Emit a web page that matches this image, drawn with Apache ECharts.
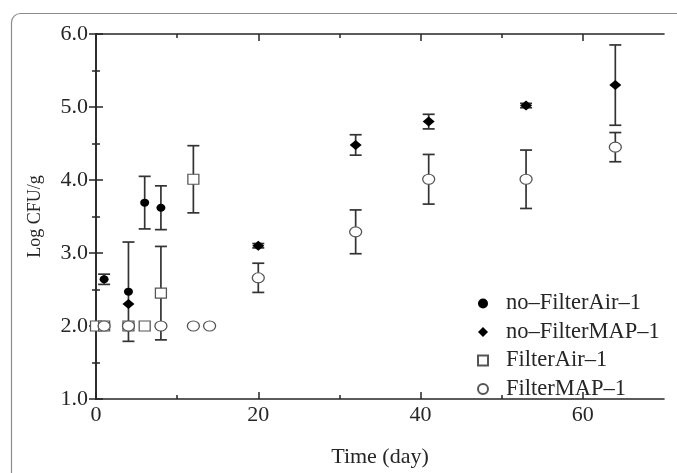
<!DOCTYPE html>
<html><head><meta charset="utf-8">
<script src="https://cdn.jsdelivr.net/npm/echarts@6/dist/echarts.min.js"></script>
<style>html,body{margin:0;padding:0;background:#fff}#c{width:677px;height:473px}</style>
</head><body><div id="c"></div>
<script>
// ---- data ----
const seriesNames = ['no–FilterAir–1', 'no–FilterMAP–1', 'FilterAir–1', 'FilterMAP–1'];

const noFilterAirDays = [1, 4, 6, 8];
const noFilterAirVals = [2.64, 2.47, 3.69, 3.62];
const noFilterAirErr  = [0.07, 0.68, 0.36, 0.30];

const noFilterMapDays = [4, 20, 32, 41, 53, 64];
const noFilterMapVals = [2.30, 3.10, 4.48, 4.80, 5.02, 5.30];
const noFilterMapErr  = [0, 0.03, 0.14, 0.10, 0.03, 0.55];

const filterAirDays = [0, 1, 4, 6, 8, 12];
const filterAirVals = [2.0, 2.0, 2.0, 2.0, 2.45, 4.01];
const filterAirErr  = [0, 0, 0, 0, 0.64, 0.46];

const filterMapDays = [1, 4, 8, 12, 14, 20, 32, 41, 53, 64];
const filterMapVals = [2.0, 2.0, 2.0, 2.0, 2.0, 2.66, 3.29, 4.01, 4.01, 4.45];
const filterMapErr  = [0, 0, 0, 0, 0, 0.20, 0.30, 0.34, 0.40, 0.20];

const xMajorTicks = [0, 20, 40, 60];
const xMinorTicks = [10, 30, 50];
const xTitle = 'Time (day)';
const yTitle = 'Log CFU/g';

// ---- build ----
const FONT = "'Liberation Serif', 'Times New Roman', serif";
const INK = '#262626';

function pts(days, vals) { return days.map((d, i) => [d, vals[i]]); }
function errs(days, vals, e) { return days.map((d, i) => [d, vals[i], e[i]]); }

function renderErr(params, api) {
  const x = api.value(0), y = api.value(1), e = api.value(2);
  if (!e) return null;
  const top = api.coord([x, y + e]);
  const bot = api.coord([x, y - e]);
  const hw = 6;
  const st = { stroke: '#333', lineWidth: 1.7 };
  return {
    type: 'group',
    children: [
      { type: 'line', shape: { x1: top[0], y1: top[1], x2: bot[0], y2: bot[1] }, style: st },
      { type: 'line', shape: { x1: top[0] - hw, y1: top[1], x2: top[0] + hw, y2: top[1] }, style: st },
      { type: 'line', shape: { x1: bot[0] - hw, y1: bot[1], x2: bot[0] + hw, y2: bot[1] }, style: st }
    ]
  };
}

function errSeries(name, data) {
  return {
    type: 'custom', name: name, renderItem: renderErr, data: data,
    encode: { x: 0, y: 1 }, z: 2, silent: true, clip: false
  };
}

const axisLine = { show: true, lineStyle: { color: INK, width: 1.6 } };

function xAx(position, major, withLabel) {
  return {
    type: 'value', min: 0, max: 70, position: position,
    axisLine: major ? axisLine : { show: false },
    axisTick: {
      show: true, inside: true, length: major ? 7 : 4,
      customValues: major ? xMajorTicks : xMinorTicks,
      lineStyle: { color: INK, width: 1.5 }
    },
    axisLabel: withLabel ? {
      show: true, customValues: xMajorTicks, color: INK,
      fontFamily: FONT, fontSize: 22, margin: 5
    } : { show: false },
    splitLine: { show: false },
    name: withLabel ? xTitle : '',
    nameLocation: 'middle', nameGap: 47,
    nameTextStyle: { fontFamily: FONT, fontSize: 22, color: INK }
  };
}

function yAx(position, withLabel) {
  return {
    type: 'value', min: 1, max: 6, interval: 1, position: position,
    axisLine: axisLine,
    axisTick: { show: true, inside: true, length: 7, lineStyle: { color: INK, width: 1.5 } },
    minorTick: { show: true, splitNumber: 2, length: 4, lineStyle: { color: INK, width: 1.5 } },
    axisLabel: withLabel ? {
      show: true, color: INK, fontFamily: FONT, fontSize: 22, margin: 8,
      formatter: v => v.toFixed(1)
    } : { show: false },
    splitLine: { show: false }, minorSplitLine: { show: false },
    name: withLabel ? yTitle : '',
    nameLocation: 'middle', nameGap: 52, nameRotate: 90,
    nameTextStyle: { fontFamily: FONT, fontSize: 18, color: INK }
  };
}

const option = {
  animation: false,
  backgroundColor: '#fff',
  graphic: [{
    type: 'rect', silent: true, z: -10,
    shape: { x: 11.5, y: 13.5, width: 720, height: 520, r: 9 },
    style: { fill: 'none', stroke: '#8c8c8c', lineWidth: 1.2 }
  }],
  grid: { left: 96, right: 13, top: 34, bottom: 62, containLabel: false },
  xAxis: [xAx('bottom', true, true), xAx('bottom', false, false), xAx('top', true, false), xAx('top', false, false)],
  yAxis: [yAx('left', true), yAx('right', false)],
  legend: {
    data: seriesNames, orient: 'vertical', left: 477, top: 292, padding: 0,
    itemWidth: 10, itemHeight: 10, itemGap: 5.5, symbolKeepAspect: true,
    textStyle: { fontFamily: FONT, fontSize: 22.5, lineHeight: 22, color: INK, padding: [0, 0, 0, 13] }
  },
  series: [
    errSeries('e1', errs(noFilterAirDays, noFilterAirVals, noFilterAirErr)),
    errSeries('e2', errs(noFilterMapDays, noFilterMapVals, noFilterMapErr)),
    errSeries('e3', errs(filterAirDays, filterAirVals, filterAirErr)),
    errSeries('e4', errs(filterMapDays, filterMapVals, filterMapErr)),
    {
      type: 'scatter', name: seriesNames[0], data: pts(noFilterAirDays, noFilterAirVals),
      symbol: 'circle', symbolSize: [9, 8], z: 4,
      itemStyle: { color: '#000', opacity: 1 }
    },
    {
      type: 'scatter', name: seriesNames[1], data: pts(noFilterMapDays, noFilterMapVals),
      symbol: 'diamond', symbolSize: [12, 10], z: 4,
      itemStyle: { color: '#000', opacity: 1 }
    },
    {
      type: 'scatter', name: seriesNames[2], data: pts(filterAirDays, filterAirVals),
      symbol: 'rect', symbolSize: [11, 10], z: 4,
      itemStyle: { color: '#fff', borderColor: '#555', borderWidth: 1.2, opacity: 1 }
    },
    {
      type: 'scatter', name: seriesNames[3], data: pts(filterMapDays, filterMapVals),
      symbol: 'circle', symbolSize: [12, 10], z: 5,
      itemStyle: { color: '#fff', borderColor: '#555', borderWidth: 1.2, opacity: 1 }
    }
  ]
};

const chart = echarts.init(document.getElementById('c'), null, { renderer: 'canvas' });
chart.setOption(option);
</script>
</body></html>
